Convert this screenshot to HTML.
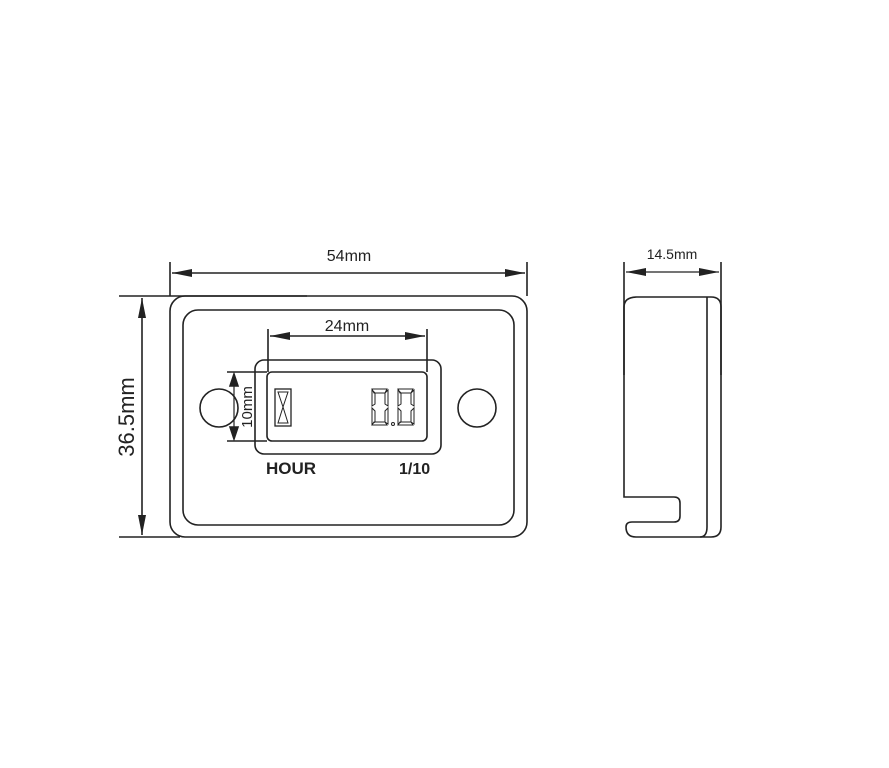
<!DOCTYPE html>
<html><head><meta charset="utf-8"><style>
html,body{margin:0;padding:0;background:#fff;}
svg{display:block;}
text{font-family:"Liberation Sans",sans-serif;fill:#222;}
</style></head><body>
<svg width="889" height="768" viewBox="0 0 889 768" xmlns="http://www.w3.org/2000/svg">
<defs>
<marker id="a" viewBox="0 0 20 8" refX="20" refY="4" markerWidth="20" markerHeight="8" markerUnits="userSpaceOnUse" orient="auto-start-reverse"><path d="M0,0 L20,4 L0,8 z" fill="#222"/></marker>
</defs>
<g stroke="#222" fill="none" stroke-width="1.6">
<!-- front view -->
<rect x="170" y="296" width="357" height="241" rx="15"/>
<rect x="183" y="310" width="331" height="215" rx="15"/>
<line x1="170" y1="262" x2="170" y2="296"/>
<line x1="527" y1="262" x2="527" y2="296"/>
<line x1="172" y1="273" x2="525" y2="273" marker-start="url(#a)" marker-end="url(#a)"/>
<line x1="119" y1="296" x2="307" y2="296"/>
<line x1="119" y1="537" x2="180" y2="537"/>
<line x1="142" y1="298" x2="142" y2="535" marker-start="url(#a)" marker-end="url(#a)"/>
<circle cx="219" cy="408" r="19"/>
<circle cx="477" cy="408" r="19"/>
<rect x="255" y="360" width="186" height="94" rx="9"/>
<rect x="267" y="372" width="160" height="69" rx="5"/>
<line x1="268" y1="329" x2="268" y2="372"/>
<line x1="427" y1="329" x2="427" y2="372"/>
<line x1="270" y1="336" x2="425" y2="336" marker-start="url(#a)" marker-end="url(#a)"/>
<line x1="227" y1="372" x2="267" y2="372"/>
<line x1="227" y1="441" x2="267" y2="441"/>
<line x1="234" y1="374" x2="234" y2="439" stroke-width="1.2"/>
<path d="M230,386 L234,374 L238,386 z M230,427 L234,439 L238,427 z" fill="#222"/>
<rect x="275" y="389" width="16" height="37" stroke-width="1.3"/>
<path d="M278,392 L288,392 L283,407 L288,423 L278,423 L283,407 z" stroke-width="1"/>
<!-- digits -->
<g stroke-width="1">
<path d="M372,389 h15 l-2,4 h-11 z M372,390 v16 l3,-2 v-11 z M388,390 v16 l-3,-2 v-11 z M372,408 v16 l3,-2 v-11 z M388,408 v16 l-3,-2 v-11 z M372,425 h15 l-2,-3 h-11 z"/>
<path d="M398,389 h15 l-2,4 h-11 z M398,390 v16 l3,-2 v-11 z M414,390 v16 l-3,-2 v-11 z M398,408 v16 l3,-2 v-11 z M414,408 v16 l-3,-2 v-11 z M398,425 h15 l-2,-3 h-11 z"/>
<circle cx="393" cy="424" r="1.5"/>
</g>
<!-- side view -->
<path d="M637,297 H711 Q721,297 721,307 V527 Q721,537 711,537 H636 Q626,537 626,527 V527 Q626,522 632,522 H674 Q680,522 680,516 V503 Q680,497 674,497 H624 V307 Q624,297 637,297 z"/>
<path d="M707,297 Q707,300 707,310 V527 Q707,537 700,537"/>
<line x1="624" y1="262" x2="624" y2="375"/>
<line x1="721" y1="262" x2="721" y2="375"/>
<line x1="626" y1="272" x2="719" y2="272" stroke-width="1.2" marker-start="url(#a)" marker-end="url(#a)"/>
</g>
<text x="349" y="261" font-size="16" text-anchor="middle">54mm</text>
<text x="347" y="331" font-size="16" text-anchor="middle">24mm</text>
<text x="672" y="259" font-size="14" text-anchor="middle">14.5mm</text>
<text transform="translate(134,417) rotate(-90)" font-size="22" text-anchor="middle">36.5mm</text>
<text transform="translate(252,407) rotate(-90)" font-size="15" text-anchor="middle">10mm</text>
<text x="266" y="474" font-size="17" font-weight="bold">HOUR</text>
<text x="399" y="474" font-size="16" font-weight="bold">1/10</text>
</svg>
</body></html>
